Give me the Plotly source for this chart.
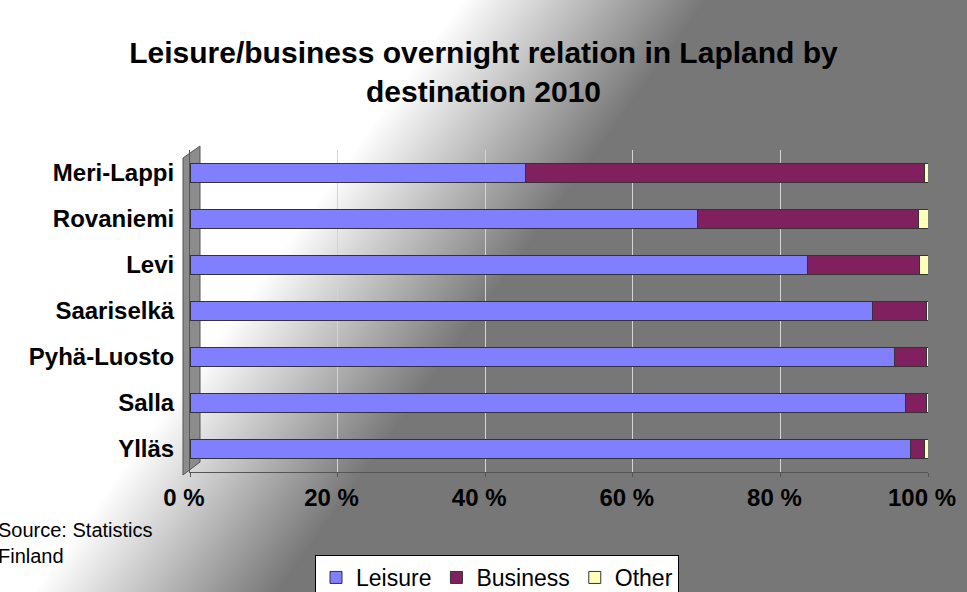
import base64
import plotly.graph_objects as go

# ---- data ----
destinations = ["Meri-Lappi", "Rovaniemi", "Levi", "Saariselkä", "Pyhä-Luosto", "Salla", "Ylläs"]
leisure = [45.4, 68.7, 83.7, 92.5, 95.5, 97.0, 97.6]
business = [54.1, 30.0, 15.1, 7.3, 4.3, 2.8, 1.9]
other = [0.5, 1.3, 1.2, 0.2, 0.2, 0.2, 0.5]
tick_vals = [0, 20, 40, 60, 80, 100]
tick_text = ["0 %", "20 %", "40 %", "60 %", "80 %", "100 %"]

W, H = 967, 592
ML, MR, MT, MB = 190, 39, 150, 120
PW, PH = W - ML - MR, H - MT - MB

FONT = "Liberation Sans, Arial, sans-serif"

# diagonal gradient background (white upper-left -> grey)
svg = f'''<svg xmlns="http://www.w3.org/2000/svg" width="{W}" height="{H}" viewBox="0 0 {W} {H}" preserveAspectRatio="none">
<defs><linearGradient id="g" gradientUnits="userSpaceOnUse" x1="290" y1="238" x2="450" y2="354">
<stop offset="0" stop-color="#ffffff"/><stop offset="1" stop-color="#777777"/></linearGradient></defs>
<rect width="{W}" height="{H}" fill="url(#g)"/></svg>'''
bg_uri = "data:image/svg+xml;base64," + base64.b64encode(svg.encode()).decode()

fig = go.Figure()
series = [("Leisure", leisure, "#8080FF"), ("Business", business, "#80205F"), ("Other", other, "#FFFFB8")]
for name, vals, col in series:
    fig.add_trace(go.Bar(
        y=destinations, x=vals, name=name, orientation="h",
        marker=dict(color=col, line=dict(color="#333333", width=1)),
    ))

def px_x(p):
    return (p - ML) / PW

def px_y(p):
    return (H - MB - p) / PH

fig.update_layout(
    width=W, height=H,
    margin=dict(l=ML, r=MR, t=MT, b=MB, autoexpand=False),
    barmode="stack", bargap=0.58,
    paper_bgcolor="#777777", plot_bgcolor="#ffffff",
    font=dict(family=FONT, color="#000000"),
    title=dict(
        text="Leisure/business overnight relation in Lapland by<br>destination 2010",
        x=0.5, xref="container", xanchor="center",
        y=1 - 63 / H, yref="container", yanchor="middle",
        font=dict(size=30, family=FONT, weight="bold", color="#000000"),
    ),
    xaxis=dict(
        range=[0, 100], tickvals=tick_vals, ticktext=tick_text,
        showgrid=True, gridcolor="#d4d4d4", gridwidth=1,
        zeroline=False, showline=True, linecolor="#555555",
        ticks="outside", ticklen=4, tickcolor="#555555",
        tickfont=dict(size=24, family=FONT, weight="bold", color="#000000"),
        ticklabelshift=-6, automargin=False,
    ),
    yaxis=dict(
        autorange="reversed", showgrid=False, zeroline=False,
        showline=True, linecolor="#555555", ticks="",
        tickfont=dict(size=24, family=FONT, weight="bold", color="#000000"),
        ticklabelstandoff=10, automargin=False,
    ),
    legend=dict(
        orientation="h", x=px_x(497), xanchor="center", y=px_y(555), yanchor="top",
        bgcolor="#ffffff", bordercolor="#000000", borderwidth=1,
        font=dict(size=23, family=FONT, color="#000000"),
        traceorder="normal", itemwidth=30,
    ),
    images=[dict(
        source=bg_uri, xref="paper", yref="paper",
        x=px_x(0), y=px_y(0), sizex=W / PW, sizey=H / PH,
        xanchor="left", yanchor="top", sizing="stretch", layer="below",
    )],
    shapes=[
        # left 3D wall
        dict(type="path", xref="paper", yref="paper",
             path=f"M {px_x(183)},{px_y(158)} L {px_x(200)},{px_y(146)} L {px_x(200)},{px_y(462)} L {px_x(183)},{px_y(475)} Z",
             fillcolor="#8c8c8c", line=dict(color="#555555", width=1), layer="below"),
    ],
    annotations=[dict(
        text="Source: Statistics<br>Finland", xref="paper", yref="paper",
        x=px_x(-4), y=px_y(517), xanchor="left", yanchor="top", align="left",
        showarrow=False, font=dict(size=20, family=FONT, color="#000000"),
    )],
    showlegend=True,
)

fig.write_html("out.html", config={"displayModeBar": False},
               post_script="document.body.style.margin='0';document.body.style.overflow='hidden';")
